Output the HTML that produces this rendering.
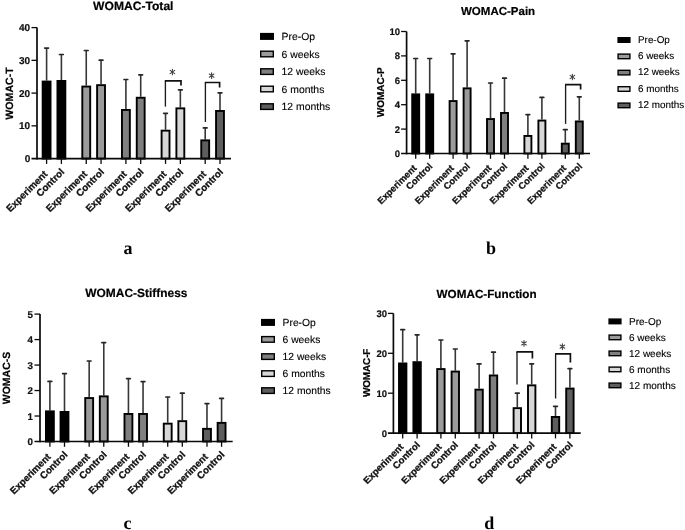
<!DOCTYPE html>
<html><head><meta charset="utf-8"><style>
html,body{margin:0;padding:0;background:#fff;width:685px;height:530px;overflow:hidden}
svg{display:block;will-change:transform}
text{font-family:"Liberation Sans",sans-serif;text-rendering:geometricPrecision}
.xl{font-weight:bold;fill:#111;stroke:#111;stroke-width:0.3px}
.tl{font-weight:bold;fill:#111;stroke:#111;stroke-width:0.2px}
.lg{fill:#000;stroke:#000;stroke-width:0.12px}
.ti{font-weight:bold;fill:#000;stroke:#000;stroke-width:0.2px}
.yl{font-weight:bold;fill:#000;stroke:#000;stroke-width:0.2px}
.st{font-size:13px;fill:#333}
.le{font-family:"Liberation Serif",serif;font-weight:bold;font-size:18px;fill:#000}
</style></head><body>
<svg width="685" height="530" viewBox="0 0 685 530">
<rect width="685" height="530" fill="#fff"/>
<line x1="46.6" y1="48.1" x2="46.6" y2="80.6" stroke="#363636" stroke-width="1.6"/>
<line x1="44.75" y1="48.1" x2="48.45" y2="48.1" stroke="#262626" stroke-width="1.7" stroke-linecap="round"/>
<rect x="42.65" y="81.55" width="7.9" height="77.05" fill="#000000" stroke="#000" stroke-width="1.9"/>
<line x1="46.6" y1="158.6" x2="46.6" y2="163.9" stroke="#0a0a0a" stroke-width="1.3"/>
<text x="48.1" y="174.8" transform="rotate(-45 48.1 174.8)" text-anchor="end" class="xl" style="font-size:9.8px">Experiment</text>
<line x1="61.4" y1="54.5" x2="61.4" y2="80" stroke="#363636" stroke-width="1.6"/>
<line x1="59.55" y1="54.5" x2="63.25" y2="54.5" stroke="#262626" stroke-width="1.7" stroke-linecap="round"/>
<rect x="57.45" y="80.95" width="7.9" height="77.65" fill="#000000" stroke="#000" stroke-width="1.9"/>
<line x1="61.4" y1="158.6" x2="61.4" y2="163.9" stroke="#0a0a0a" stroke-width="1.3"/>
<text x="65" y="172.7" transform="rotate(-45 65 172.7)" text-anchor="end" class="xl" style="font-size:9.8px">Control</text>
<line x1="86.25" y1="50.5" x2="86.25" y2="85.6" stroke="#363636" stroke-width="1.6"/>
<line x1="84.4" y1="50.5" x2="88.1" y2="50.5" stroke="#262626" stroke-width="1.7" stroke-linecap="round"/>
<rect x="82.3" y="86.55" width="7.9" height="72.05" fill="#9b9b9b" stroke="#000" stroke-width="1.9"/>
<line x1="86.25" y1="158.6" x2="86.25" y2="163.9" stroke="#0a0a0a" stroke-width="1.3"/>
<text x="87.75" y="174.8" transform="rotate(-45 87.75 174.8)" text-anchor="end" class="xl" style="font-size:9.8px">Experiment</text>
<line x1="101.05" y1="60.2" x2="101.05" y2="84.2" stroke="#363636" stroke-width="1.6"/>
<line x1="99.2" y1="60.2" x2="102.9" y2="60.2" stroke="#262626" stroke-width="1.7" stroke-linecap="round"/>
<rect x="97.1" y="85.15" width="7.9" height="73.45" fill="#9b9b9b" stroke="#000" stroke-width="1.9"/>
<line x1="101.05" y1="158.6" x2="101.05" y2="163.9" stroke="#0a0a0a" stroke-width="1.3"/>
<text x="104.65" y="172.7" transform="rotate(-45 104.65 172.7)" text-anchor="end" class="xl" style="font-size:9.8px">Control</text>
<line x1="125.9" y1="79.5" x2="125.9" y2="109" stroke="#363636" stroke-width="1.6"/>
<line x1="124.05" y1="79.5" x2="127.75" y2="79.5" stroke="#262626" stroke-width="1.7" stroke-linecap="round"/>
<rect x="121.95" y="109.95" width="7.9" height="48.65" fill="#7f7f7f" stroke="#000" stroke-width="1.9"/>
<line x1="125.9" y1="158.6" x2="125.9" y2="163.9" stroke="#0a0a0a" stroke-width="1.3"/>
<text x="127.4" y="174.8" transform="rotate(-45 127.4 174.8)" text-anchor="end" class="xl" style="font-size:9.8px">Experiment</text>
<line x1="140.7" y1="74.8" x2="140.7" y2="96.8" stroke="#363636" stroke-width="1.6"/>
<line x1="138.85" y1="74.8" x2="142.55" y2="74.8" stroke="#262626" stroke-width="1.7" stroke-linecap="round"/>
<rect x="136.75" y="97.75" width="7.9" height="60.85" fill="#7f7f7f" stroke="#000" stroke-width="1.9"/>
<line x1="140.7" y1="158.6" x2="140.7" y2="163.9" stroke="#0a0a0a" stroke-width="1.3"/>
<text x="144.3" y="172.7" transform="rotate(-45 144.3 172.7)" text-anchor="end" class="xl" style="font-size:9.8px">Control</text>
<line x1="165.55" y1="113.3" x2="165.55" y2="129.7" stroke="#363636" stroke-width="1.6"/>
<line x1="163.7" y1="113.3" x2="167.4" y2="113.3" stroke="#262626" stroke-width="1.7" stroke-linecap="round"/>
<rect x="161.6" y="130.65" width="7.9" height="27.95" fill="#d7d7d7" stroke="#000" stroke-width="1.9"/>
<line x1="165.55" y1="158.6" x2="165.55" y2="163.9" stroke="#0a0a0a" stroke-width="1.3"/>
<text x="167.05" y="174.8" transform="rotate(-45 167.05 174.8)" text-anchor="end" class="xl" style="font-size:9.8px">Experiment</text>
<line x1="180.35" y1="89.8" x2="180.35" y2="107.4" stroke="#363636" stroke-width="1.6"/>
<line x1="178.5" y1="89.8" x2="182.2" y2="89.8" stroke="#262626" stroke-width="1.7" stroke-linecap="round"/>
<rect x="176.4" y="108.35" width="7.9" height="50.25" fill="#d7d7d7" stroke="#000" stroke-width="1.9"/>
<line x1="180.35" y1="158.6" x2="180.35" y2="163.9" stroke="#0a0a0a" stroke-width="1.3"/>
<text x="183.95" y="172.7" transform="rotate(-45 183.95 172.7)" text-anchor="end" class="xl" style="font-size:9.8px">Control</text>
<line x1="205.2" y1="127.9" x2="205.2" y2="139.4" stroke="#363636" stroke-width="1.6"/>
<line x1="203.35" y1="127.9" x2="207.05" y2="127.9" stroke="#262626" stroke-width="1.7" stroke-linecap="round"/>
<rect x="201.25" y="140.35" width="7.9" height="18.25" fill="#5e5e5e" stroke="#000" stroke-width="1.9"/>
<line x1="205.2" y1="158.6" x2="205.2" y2="163.9" stroke="#0a0a0a" stroke-width="1.3"/>
<text x="206.7" y="174.8" transform="rotate(-45 206.7 174.8)" text-anchor="end" class="xl" style="font-size:9.8px">Experiment</text>
<line x1="220" y1="92.8" x2="220" y2="110" stroke="#363636" stroke-width="1.6"/>
<line x1="218.15" y1="92.8" x2="221.85" y2="92.8" stroke="#262626" stroke-width="1.7" stroke-linecap="round"/>
<rect x="216.05" y="110.95" width="7.9" height="47.65" fill="#5e5e5e" stroke="#000" stroke-width="1.9"/>
<line x1="220" y1="158.6" x2="220" y2="163.9" stroke="#0a0a0a" stroke-width="1.3"/>
<text x="223.6" y="172.7" transform="rotate(-45 223.6 172.7)" text-anchor="end" class="xl" style="font-size:9.8px">Control</text>
<line x1="37" y1="27.6" x2="37" y2="159.4" stroke="#0a0a0a" stroke-width="1.7"/>
<line x1="31.5" y1="158.6" x2="231" y2="158.6" stroke="#0a0a0a" stroke-width="1.7"/>
<text x="30.2" y="162.2" text-anchor="end" class="tl" style="font-size:10px">0</text>
<line x1="31.5" y1="125.85" x2="37" y2="125.85" stroke="#0a0a0a" stroke-width="1.3"/>
<text x="30.2" y="129.45" text-anchor="end" class="tl" style="font-size:10px">10</text>
<line x1="31.5" y1="93.1" x2="37" y2="93.1" stroke="#0a0a0a" stroke-width="1.3"/>
<text x="30.2" y="96.7" text-anchor="end" class="tl" style="font-size:10px">20</text>
<line x1="31.5" y1="60.35" x2="37" y2="60.35" stroke="#0a0a0a" stroke-width="1.3"/>
<text x="30.2" y="63.95" text-anchor="end" class="tl" style="font-size:10px">30</text>
<line x1="31.5" y1="27.6" x2="37" y2="27.6" stroke="#0a0a0a" stroke-width="1.3"/>
<text x="30.2" y="31.2" text-anchor="end" class="tl" style="font-size:10px">40</text>
<line x1="165.4" y1="106.6" x2="165.4" y2="80.9" stroke="#1c1c1c" stroke-width="1.35"/>
<polyline points="164.8,80.9 181,80.9 181,85.6" fill="none" stroke="#111" stroke-width="1.7"/>
<path d="M172.4 69.2V74.8M170.1 70.4L174.7 73.6M174.7 70.4L170.1 73.6" stroke="#444" stroke-width="1.1" stroke-linecap="round" fill="none"/>
<line x1="205.4" y1="122" x2="205.4" y2="82.5" stroke="#1c1c1c" stroke-width="1.35"/>
<polyline points="204.8,82.5 219.6,82.5 219.6,87.6" fill="none" stroke="#111" stroke-width="1.7"/>
<path d="M211.6 72.8V78.4M209.3 74L213.9 77.2M213.9 74L209.3 77.2" stroke="#444" stroke-width="1.1" stroke-linecap="round" fill="none"/>
<rect x="260.7" y="33.6" width="12.6" height="5.6" fill="#000000" stroke="#000" stroke-width="1.4"/>
<text x="281.6" y="40.14" class="lg" style="font-size:10.4px">Pre-Op</text>
<rect x="260.7" y="51.2" width="12.6" height="5.6" fill="#9b9b9b" stroke="#000" stroke-width="1.4"/>
<text x="281.6" y="57.74" class="lg" style="font-size:10.4px">6 weeks</text>
<rect x="260.7" y="68.8" width="12.6" height="5.6" fill="#7f7f7f" stroke="#000" stroke-width="1.4"/>
<text x="281.6" y="75.34" class="lg" style="font-size:10.4px">12 weeks</text>
<rect x="260.7" y="86.2" width="12.6" height="5.6" fill="#d7d7d7" stroke="#000" stroke-width="1.4"/>
<text x="281.6" y="92.74" class="lg" style="font-size:10.4px">6 months</text>
<rect x="260.7" y="103.8" width="12.6" height="5.6" fill="#5e5e5e" stroke="#000" stroke-width="1.4"/>
<text x="281.6" y="110.34" class="lg" style="font-size:10.4px">12 months</text>
<text x="93.1" y="10.4" class="ti" style="font-size:12.1px">WOMAC-Total</text>
<text x="12.5" y="93.5" transform="rotate(-90 12.5 93.5)" text-anchor="middle" class="yl" style="font-size:10.6px;letter-spacing:0px">WOMAC-T</text>
<text x="123.4" y="254.1" class="le">a</text>
<line x1="415.7" y1="58.5" x2="415.7" y2="93.4" stroke="#363636" stroke-width="1.6"/>
<line x1="413.85" y1="58.5" x2="417.55" y2="58.5" stroke="#262626" stroke-width="1.7" stroke-linecap="round"/>
<rect x="412.2" y="94.35" width="7" height="59.15" fill="#000000" stroke="#000" stroke-width="1.9"/>
<line x1="415.7" y1="153.5" x2="415.7" y2="158.8" stroke="#0a0a0a" stroke-width="1.3"/>
<text x="417.12" y="168.89" transform="rotate(-45 417.12 168.89)" text-anchor="end" class="xl" style="font-size:9.3px">Experiment</text>
<line x1="429.7" y1="58.5" x2="429.7" y2="93.4" stroke="#363636" stroke-width="1.6"/>
<line x1="427.85" y1="58.5" x2="431.55" y2="58.5" stroke="#262626" stroke-width="1.7" stroke-linecap="round"/>
<rect x="426.2" y="94.35" width="7" height="59.15" fill="#000000" stroke="#000" stroke-width="1.9"/>
<line x1="429.7" y1="153.5" x2="429.7" y2="158.8" stroke="#0a0a0a" stroke-width="1.3"/>
<text x="433.12" y="166.9" transform="rotate(-45 433.12 166.9)" text-anchor="end" class="xl" style="font-size:9.3px">Control</text>
<line x1="453.1" y1="53.8" x2="453.1" y2="100.1" stroke="#363636" stroke-width="1.6"/>
<line x1="451.25" y1="53.8" x2="454.95" y2="53.8" stroke="#262626" stroke-width="1.7" stroke-linecap="round"/>
<rect x="449.6" y="101.05" width="7" height="52.45" fill="#9b9b9b" stroke="#000" stroke-width="1.9"/>
<line x1="453.1" y1="153.5" x2="453.1" y2="158.8" stroke="#0a0a0a" stroke-width="1.3"/>
<text x="454.52" y="168.89" transform="rotate(-45 454.52 168.89)" text-anchor="end" class="xl" style="font-size:9.3px">Experiment</text>
<line x1="467.1" y1="40.8" x2="467.1" y2="87.4" stroke="#363636" stroke-width="1.6"/>
<line x1="465.25" y1="40.8" x2="468.95" y2="40.8" stroke="#262626" stroke-width="1.7" stroke-linecap="round"/>
<rect x="463.6" y="88.35" width="7" height="65.15" fill="#9b9b9b" stroke="#000" stroke-width="1.9"/>
<line x1="467.1" y1="153.5" x2="467.1" y2="158.8" stroke="#0a0a0a" stroke-width="1.3"/>
<text x="470.52" y="166.9" transform="rotate(-45 470.52 166.9)" text-anchor="end" class="xl" style="font-size:9.3px">Control</text>
<line x1="490.5" y1="83" x2="490.5" y2="118.1" stroke="#363636" stroke-width="1.6"/>
<line x1="488.65" y1="83" x2="492.35" y2="83" stroke="#262626" stroke-width="1.7" stroke-linecap="round"/>
<rect x="487" y="119.05" width="7" height="34.45" fill="#7f7f7f" stroke="#000" stroke-width="1.9"/>
<line x1="490.5" y1="153.5" x2="490.5" y2="158.8" stroke="#0a0a0a" stroke-width="1.3"/>
<text x="491.93" y="168.89" transform="rotate(-45 491.93 168.89)" text-anchor="end" class="xl" style="font-size:9.3px">Experiment</text>
<line x1="504.5" y1="78.2" x2="504.5" y2="112" stroke="#363636" stroke-width="1.6"/>
<line x1="502.65" y1="78.2" x2="506.35" y2="78.2" stroke="#262626" stroke-width="1.7" stroke-linecap="round"/>
<rect x="501" y="112.95" width="7" height="40.55" fill="#7f7f7f" stroke="#000" stroke-width="1.9"/>
<line x1="504.5" y1="153.5" x2="504.5" y2="158.8" stroke="#0a0a0a" stroke-width="1.3"/>
<text x="507.92" y="166.9" transform="rotate(-45 507.92 166.9)" text-anchor="end" class="xl" style="font-size:9.3px">Control</text>
<line x1="527.9" y1="114.6" x2="527.9" y2="135" stroke="#363636" stroke-width="1.6"/>
<line x1="526.05" y1="114.6" x2="529.75" y2="114.6" stroke="#262626" stroke-width="1.7" stroke-linecap="round"/>
<rect x="524.4" y="135.95" width="7" height="17.55" fill="#d7d7d7" stroke="#000" stroke-width="1.9"/>
<line x1="527.9" y1="153.5" x2="527.9" y2="158.8" stroke="#0a0a0a" stroke-width="1.3"/>
<text x="529.32" y="168.89" transform="rotate(-45 529.32 168.89)" text-anchor="end" class="xl" style="font-size:9.3px">Experiment</text>
<line x1="541.9" y1="97.4" x2="541.9" y2="119.6" stroke="#363636" stroke-width="1.6"/>
<line x1="540.05" y1="97.4" x2="543.75" y2="97.4" stroke="#262626" stroke-width="1.7" stroke-linecap="round"/>
<rect x="538.4" y="120.55" width="7" height="32.95" fill="#d7d7d7" stroke="#000" stroke-width="1.9"/>
<line x1="541.9" y1="153.5" x2="541.9" y2="158.8" stroke="#0a0a0a" stroke-width="1.3"/>
<text x="545.32" y="166.9" transform="rotate(-45 545.32 166.9)" text-anchor="end" class="xl" style="font-size:9.3px">Control</text>
<line x1="565.3" y1="129.7" x2="565.3" y2="142.7" stroke="#363636" stroke-width="1.6"/>
<line x1="563.45" y1="129.7" x2="567.15" y2="129.7" stroke="#262626" stroke-width="1.7" stroke-linecap="round"/>
<rect x="561.8" y="143.65" width="7" height="9.85" fill="#5e5e5e" stroke="#000" stroke-width="1.9"/>
<line x1="565.3" y1="153.5" x2="565.3" y2="158.8" stroke="#0a0a0a" stroke-width="1.3"/>
<text x="566.72" y="168.89" transform="rotate(-45 566.72 168.89)" text-anchor="end" class="xl" style="font-size:9.3px">Experiment</text>
<line x1="579.3" y1="96.8" x2="579.3" y2="120.5" stroke="#363636" stroke-width="1.6"/>
<line x1="577.45" y1="96.8" x2="581.15" y2="96.8" stroke="#262626" stroke-width="1.7" stroke-linecap="round"/>
<rect x="575.8" y="121.45" width="7" height="32.05" fill="#5e5e5e" stroke="#000" stroke-width="1.9"/>
<line x1="579.3" y1="153.5" x2="579.3" y2="158.8" stroke="#0a0a0a" stroke-width="1.3"/>
<text x="582.72" y="166.9" transform="rotate(-45 582.72 166.9)" text-anchor="end" class="xl" style="font-size:9.3px">Control</text>
<line x1="406.6" y1="31.5" x2="406.6" y2="154.3" stroke="#0a0a0a" stroke-width="1.7"/>
<line x1="401.1" y1="153.5" x2="590" y2="153.5" stroke="#0a0a0a" stroke-width="1.7"/>
<text x="400.1" y="156.92" text-anchor="end" class="tl" style="font-size:9.5px">0</text>
<line x1="401.1" y1="129.1" x2="406.6" y2="129.1" stroke="#0a0a0a" stroke-width="1.3"/>
<text x="400.1" y="132.52" text-anchor="end" class="tl" style="font-size:9.5px">2</text>
<line x1="401.1" y1="104.7" x2="406.6" y2="104.7" stroke="#0a0a0a" stroke-width="1.3"/>
<text x="400.1" y="108.12" text-anchor="end" class="tl" style="font-size:9.5px">4</text>
<line x1="401.1" y1="80.3" x2="406.6" y2="80.3" stroke="#0a0a0a" stroke-width="1.3"/>
<text x="400.1" y="83.72" text-anchor="end" class="tl" style="font-size:9.5px">6</text>
<line x1="401.1" y1="55.9" x2="406.6" y2="55.9" stroke="#0a0a0a" stroke-width="1.3"/>
<text x="400.1" y="59.32" text-anchor="end" class="tl" style="font-size:9.5px">8</text>
<line x1="401.1" y1="31.5" x2="406.6" y2="31.5" stroke="#0a0a0a" stroke-width="1.3"/>
<text x="400.1" y="34.92" text-anchor="end" class="tl" style="font-size:9.5px">10</text>
<line x1="565.6" y1="123.9" x2="565.6" y2="84.7" stroke="#1c1c1c" stroke-width="1.35"/>
<polyline points="565,84.7 580.6,84.7 580.6,89.6" fill="none" stroke="#111" stroke-width="1.7"/>
<path d="M572.4 74.2V79.8M570.1 75.4L574.7 78.6M574.7 75.4L570.1 78.6" stroke="#444" stroke-width="1.1" stroke-linecap="round" fill="none"/>
<rect x="618.1" y="37.7" width="11.8" height="4.6" fill="#000000" stroke="#000" stroke-width="1.4"/>
<text x="638" y="42.76" class="lg" style="font-size:9.9px">Pre-Op</text>
<rect x="618.1" y="54.1" width="11.8" height="4.6" fill="#9b9b9b" stroke="#000" stroke-width="1.4"/>
<text x="638" y="59.16" class="lg" style="font-size:9.9px">6 weeks</text>
<rect x="618.1" y="70.3" width="11.8" height="4.6" fill="#7f7f7f" stroke="#000" stroke-width="1.4"/>
<text x="638" y="75.36" class="lg" style="font-size:9.9px">12 weeks</text>
<rect x="618.1" y="86.7" width="11.8" height="4.6" fill="#d7d7d7" stroke="#000" stroke-width="1.4"/>
<text x="638" y="91.76" class="lg" style="font-size:9.9px">6 months</text>
<rect x="618.1" y="103.1" width="11.8" height="4.6" fill="#5e5e5e" stroke="#000" stroke-width="1.4"/>
<text x="638" y="108.16" class="lg" style="font-size:9.9px">12 months</text>
<text x="461" y="15.4" class="ti" style="font-size:11.5px">WOMAC-Pain</text>
<text x="384.3" y="92.3" transform="rotate(-90 384.3 92.3)" text-anchor="middle" class="yl" style="font-size:10px;letter-spacing:0px">WOMAC-P</text>
<text x="486.1" y="253.9" class="le">b</text>
<line x1="49.9" y1="381.4" x2="49.9" y2="410.4" stroke="#363636" stroke-width="1.6"/>
<line x1="48.05" y1="381.4" x2="51.75" y2="381.4" stroke="#262626" stroke-width="1.7" stroke-linecap="round"/>
<rect x="45.95" y="411.35" width="7.9" height="30.15" fill="#000000" stroke="#000" stroke-width="1.9"/>
<line x1="49.9" y1="441.5" x2="49.9" y2="446.8" stroke="#0a0a0a" stroke-width="1.3"/>
<text x="51.39" y="457.54" transform="rotate(-45 51.39 457.54)" text-anchor="end" class="xl" style="font-size:9.7px">Experiment</text>
<line x1="64.5" y1="373.6" x2="64.5" y2="411" stroke="#363636" stroke-width="1.6"/>
<line x1="62.65" y1="373.6" x2="66.35" y2="373.6" stroke="#262626" stroke-width="1.7" stroke-linecap="round"/>
<rect x="60.55" y="411.95" width="7.9" height="29.55" fill="#000000" stroke="#000" stroke-width="1.9"/>
<line x1="64.5" y1="441.5" x2="64.5" y2="446.8" stroke="#0a0a0a" stroke-width="1.3"/>
<text x="68.06" y="455.46" transform="rotate(-45 68.06 455.46)" text-anchor="end" class="xl" style="font-size:9.7px">Control</text>
<line x1="89.17" y1="361" x2="89.17" y2="397.1" stroke="#363636" stroke-width="1.6"/>
<line x1="87.32" y1="361" x2="91.02" y2="361" stroke="#262626" stroke-width="1.7" stroke-linecap="round"/>
<rect x="85.22" y="398.05" width="7.9" height="43.45" fill="#9b9b9b" stroke="#000" stroke-width="1.9"/>
<line x1="89.17" y1="441.5" x2="89.17" y2="446.8" stroke="#0a0a0a" stroke-width="1.3"/>
<text x="90.66" y="457.54" transform="rotate(-45 90.66 457.54)" text-anchor="end" class="xl" style="font-size:9.7px">Experiment</text>
<line x1="103.77" y1="342.6" x2="103.77" y2="395.4" stroke="#363636" stroke-width="1.6"/>
<line x1="101.92" y1="342.6" x2="105.62" y2="342.6" stroke="#262626" stroke-width="1.7" stroke-linecap="round"/>
<rect x="99.82" y="396.35" width="7.9" height="45.15" fill="#9b9b9b" stroke="#000" stroke-width="1.9"/>
<line x1="103.77" y1="441.5" x2="103.77" y2="446.8" stroke="#0a0a0a" stroke-width="1.3"/>
<text x="107.33" y="455.46" transform="rotate(-45 107.33 455.46)" text-anchor="end" class="xl" style="font-size:9.7px">Control</text>
<line x1="128.44" y1="378.6" x2="128.44" y2="413" stroke="#363636" stroke-width="1.6"/>
<line x1="126.59" y1="378.6" x2="130.29" y2="378.6" stroke="#262626" stroke-width="1.7" stroke-linecap="round"/>
<rect x="124.49" y="413.95" width="7.9" height="27.55" fill="#7f7f7f" stroke="#000" stroke-width="1.9"/>
<line x1="128.44" y1="441.5" x2="128.44" y2="446.8" stroke="#0a0a0a" stroke-width="1.3"/>
<text x="129.93" y="457.54" transform="rotate(-45 129.93 457.54)" text-anchor="end" class="xl" style="font-size:9.7px">Experiment</text>
<line x1="143.04" y1="381.6" x2="143.04" y2="413" stroke="#363636" stroke-width="1.6"/>
<line x1="141.19" y1="381.6" x2="144.89" y2="381.6" stroke="#262626" stroke-width="1.7" stroke-linecap="round"/>
<rect x="139.09" y="413.95" width="7.9" height="27.55" fill="#7f7f7f" stroke="#000" stroke-width="1.9"/>
<line x1="143.04" y1="441.5" x2="143.04" y2="446.8" stroke="#0a0a0a" stroke-width="1.3"/>
<text x="146.6" y="455.46" transform="rotate(-45 146.6 455.46)" text-anchor="end" class="xl" style="font-size:9.7px">Control</text>
<line x1="167.71" y1="397" x2="167.71" y2="422.7" stroke="#363636" stroke-width="1.6"/>
<line x1="165.86" y1="397" x2="169.56" y2="397" stroke="#262626" stroke-width="1.7" stroke-linecap="round"/>
<rect x="163.76" y="423.65" width="7.9" height="17.85" fill="#d7d7d7" stroke="#000" stroke-width="1.9"/>
<line x1="167.71" y1="441.5" x2="167.71" y2="446.8" stroke="#0a0a0a" stroke-width="1.3"/>
<text x="169.19" y="457.54" transform="rotate(-45 169.19 457.54)" text-anchor="end" class="xl" style="font-size:9.7px">Experiment</text>
<line x1="182.31" y1="393.2" x2="182.31" y2="420.2" stroke="#363636" stroke-width="1.6"/>
<line x1="180.46" y1="393.2" x2="184.16" y2="393.2" stroke="#262626" stroke-width="1.7" stroke-linecap="round"/>
<rect x="178.36" y="421.15" width="7.9" height="20.35" fill="#d7d7d7" stroke="#000" stroke-width="1.9"/>
<line x1="182.31" y1="441.5" x2="182.31" y2="446.8" stroke="#0a0a0a" stroke-width="1.3"/>
<text x="185.87" y="455.46" transform="rotate(-45 185.87 455.46)" text-anchor="end" class="xl" style="font-size:9.7px">Control</text>
<line x1="206.98" y1="403.6" x2="206.98" y2="427.9" stroke="#363636" stroke-width="1.6"/>
<line x1="205.13" y1="403.6" x2="208.83" y2="403.6" stroke="#262626" stroke-width="1.7" stroke-linecap="round"/>
<rect x="203.03" y="428.85" width="7.9" height="12.65" fill="#5e5e5e" stroke="#000" stroke-width="1.9"/>
<line x1="206.98" y1="441.5" x2="206.98" y2="446.8" stroke="#0a0a0a" stroke-width="1.3"/>
<text x="208.47" y="457.54" transform="rotate(-45 208.47 457.54)" text-anchor="end" class="xl" style="font-size:9.7px">Experiment</text>
<line x1="221.58" y1="398.4" x2="221.58" y2="421.9" stroke="#363636" stroke-width="1.6"/>
<line x1="219.73" y1="398.4" x2="223.43" y2="398.4" stroke="#262626" stroke-width="1.7" stroke-linecap="round"/>
<rect x="217.63" y="422.85" width="7.9" height="18.65" fill="#5e5e5e" stroke="#000" stroke-width="1.9"/>
<line x1="221.58" y1="441.5" x2="221.58" y2="446.8" stroke="#0a0a0a" stroke-width="1.3"/>
<text x="225.14" y="455.46" transform="rotate(-45 225.14 455.46)" text-anchor="end" class="xl" style="font-size:9.7px">Control</text>
<line x1="40" y1="314.1" x2="40" y2="442.3" stroke="#0a0a0a" stroke-width="1.7"/>
<line x1="34.5" y1="441.5" x2="232.7" y2="441.5" stroke="#0a0a0a" stroke-width="1.7"/>
<text x="33" y="445.03" text-anchor="end" class="tl" style="font-size:9.8px">0</text>
<line x1="34.5" y1="416.02" x2="40" y2="416.02" stroke="#0a0a0a" stroke-width="1.3"/>
<text x="33" y="419.55" text-anchor="end" class="tl" style="font-size:9.8px">1</text>
<line x1="34.5" y1="390.54" x2="40" y2="390.54" stroke="#0a0a0a" stroke-width="1.3"/>
<text x="33" y="394.07" text-anchor="end" class="tl" style="font-size:9.8px">2</text>
<line x1="34.5" y1="365.06" x2="40" y2="365.06" stroke="#0a0a0a" stroke-width="1.3"/>
<text x="33" y="368.59" text-anchor="end" class="tl" style="font-size:9.8px">3</text>
<line x1="34.5" y1="339.58" x2="40" y2="339.58" stroke="#0a0a0a" stroke-width="1.3"/>
<text x="33" y="343.11" text-anchor="end" class="tl" style="font-size:9.8px">4</text>
<line x1="34.5" y1="314.1" x2="40" y2="314.1" stroke="#0a0a0a" stroke-width="1.3"/>
<text x="33" y="317.63" text-anchor="end" class="tl" style="font-size:9.8px">5</text>
<rect x="261.7" y="319.6" width="12.6" height="5.6" fill="#000000" stroke="#000" stroke-width="1.4"/>
<text x="282.6" y="326.11" class="lg" style="font-size:10.3px">Pre-Op</text>
<rect x="261.7" y="336.6" width="12.6" height="5.6" fill="#9b9b9b" stroke="#000" stroke-width="1.4"/>
<text x="282.6" y="343.11" class="lg" style="font-size:10.3px">6 weeks</text>
<rect x="261.7" y="353.8" width="12.6" height="5.6" fill="#7f7f7f" stroke="#000" stroke-width="1.4"/>
<text x="282.6" y="360.31" class="lg" style="font-size:10.3px">12 weeks</text>
<rect x="261.7" y="370.8" width="12.6" height="5.6" fill="#d7d7d7" stroke="#000" stroke-width="1.4"/>
<text x="282.6" y="377.31" class="lg" style="font-size:10.3px">6 months</text>
<rect x="261.7" y="387.8" width="12.6" height="5.6" fill="#5e5e5e" stroke="#000" stroke-width="1.4"/>
<text x="282.6" y="394.31" class="lg" style="font-size:10.3px">12 months</text>
<text x="85.3" y="297.4" class="ti" style="font-size:11.95px">WOMAC-Stiffness</text>
<text x="10.3" y="378" transform="rotate(-90 10.3 378)" text-anchor="middle" class="yl" style="font-size:10.5px;letter-spacing:0px">WOMAC-S</text>
<text x="123.5" y="529.2" class="le">c</text>
<line x1="402.7" y1="329.7" x2="402.7" y2="362.5" stroke="#363636" stroke-width="1.6"/>
<line x1="400.85" y1="329.7" x2="404.55" y2="329.7" stroke="#262626" stroke-width="1.7" stroke-linecap="round"/>
<rect x="399" y="363.45" width="7.4" height="69.65" fill="#000000" stroke="#000" stroke-width="1.9"/>
<line x1="402.7" y1="433.1" x2="402.7" y2="438.4" stroke="#0a0a0a" stroke-width="1.3"/>
<text x="404.14" y="447.55" transform="rotate(-45 404.14 447.55)" text-anchor="end" class="xl" style="font-size:9.6px">Experiment</text>
<line x1="417.1" y1="334.8" x2="417.1" y2="361.2" stroke="#363636" stroke-width="1.6"/>
<line x1="415.25" y1="334.8" x2="418.95" y2="334.8" stroke="#262626" stroke-width="1.7" stroke-linecap="round"/>
<rect x="413.4" y="362.15" width="7.4" height="70.95" fill="#000000" stroke="#000" stroke-width="1.9"/>
<line x1="417.1" y1="433.1" x2="417.1" y2="438.4" stroke="#0a0a0a" stroke-width="1.3"/>
<text x="420.56" y="445.54" transform="rotate(-45 420.56 445.54)" text-anchor="end" class="xl" style="font-size:9.6px">Control</text>
<line x1="440.9" y1="340" x2="440.9" y2="368.1" stroke="#363636" stroke-width="1.6"/>
<line x1="439.05" y1="340" x2="442.75" y2="340" stroke="#262626" stroke-width="1.7" stroke-linecap="round"/>
<rect x="437.2" y="369.05" width="7.4" height="64.05" fill="#9b9b9b" stroke="#000" stroke-width="1.9"/>
<line x1="440.9" y1="433.1" x2="440.9" y2="438.4" stroke="#0a0a0a" stroke-width="1.3"/>
<text x="442.34" y="447.55" transform="rotate(-45 442.34 447.55)" text-anchor="end" class="xl" style="font-size:9.6px">Experiment</text>
<line x1="455.3" y1="349" x2="455.3" y2="370.6" stroke="#363636" stroke-width="1.6"/>
<line x1="453.45" y1="349" x2="457.15" y2="349" stroke="#262626" stroke-width="1.7" stroke-linecap="round"/>
<rect x="451.6" y="371.55" width="7.4" height="61.55" fill="#9b9b9b" stroke="#000" stroke-width="1.9"/>
<line x1="455.3" y1="433.1" x2="455.3" y2="438.4" stroke="#0a0a0a" stroke-width="1.3"/>
<text x="458.76" y="445.54" transform="rotate(-45 458.76 445.54)" text-anchor="end" class="xl" style="font-size:9.6px">Control</text>
<line x1="479.1" y1="363.9" x2="479.1" y2="388.7" stroke="#363636" stroke-width="1.6"/>
<line x1="477.25" y1="363.9" x2="480.95" y2="363.9" stroke="#262626" stroke-width="1.7" stroke-linecap="round"/>
<rect x="475.4" y="389.65" width="7.4" height="43.45" fill="#7f7f7f" stroke="#000" stroke-width="1.9"/>
<line x1="479.1" y1="433.1" x2="479.1" y2="438.4" stroke="#0a0a0a" stroke-width="1.3"/>
<text x="480.54" y="447.55" transform="rotate(-45 480.54 447.55)" text-anchor="end" class="xl" style="font-size:9.6px">Experiment</text>
<line x1="493.5" y1="352.2" x2="493.5" y2="374.5" stroke="#363636" stroke-width="1.6"/>
<line x1="491.65" y1="352.2" x2="495.35" y2="352.2" stroke="#262626" stroke-width="1.7" stroke-linecap="round"/>
<rect x="489.8" y="375.45" width="7.4" height="57.65" fill="#7f7f7f" stroke="#000" stroke-width="1.9"/>
<line x1="493.5" y1="433.1" x2="493.5" y2="438.4" stroke="#0a0a0a" stroke-width="1.3"/>
<text x="496.96" y="445.54" transform="rotate(-45 496.96 445.54)" text-anchor="end" class="xl" style="font-size:9.6px">Control</text>
<line x1="517.3" y1="393.2" x2="517.3" y2="407.2" stroke="#363636" stroke-width="1.6"/>
<line x1="515.45" y1="393.2" x2="519.15" y2="393.2" stroke="#262626" stroke-width="1.7" stroke-linecap="round"/>
<rect x="513.6" y="408.15" width="7.4" height="24.95" fill="#d7d7d7" stroke="#000" stroke-width="1.9"/>
<line x1="517.3" y1="433.1" x2="517.3" y2="438.4" stroke="#0a0a0a" stroke-width="1.3"/>
<text x="518.74" y="447.55" transform="rotate(-45 518.74 447.55)" text-anchor="end" class="xl" style="font-size:9.6px">Experiment</text>
<line x1="531.7" y1="363.8" x2="531.7" y2="384.4" stroke="#363636" stroke-width="1.6"/>
<line x1="529.85" y1="363.8" x2="533.55" y2="363.8" stroke="#262626" stroke-width="1.7" stroke-linecap="round"/>
<rect x="528" y="385.35" width="7.4" height="47.75" fill="#d7d7d7" stroke="#000" stroke-width="1.9"/>
<line x1="531.7" y1="433.1" x2="531.7" y2="438.4" stroke="#0a0a0a" stroke-width="1.3"/>
<text x="535.16" y="445.54" transform="rotate(-45 535.16 445.54)" text-anchor="end" class="xl" style="font-size:9.6px">Control</text>
<line x1="555.5" y1="406.3" x2="555.5" y2="416" stroke="#363636" stroke-width="1.6"/>
<line x1="553.65" y1="406.3" x2="557.35" y2="406.3" stroke="#262626" stroke-width="1.7" stroke-linecap="round"/>
<rect x="551.8" y="416.95" width="7.4" height="16.15" fill="#5e5e5e" stroke="#000" stroke-width="1.9"/>
<line x1="555.5" y1="433.1" x2="555.5" y2="438.4" stroke="#0a0a0a" stroke-width="1.3"/>
<text x="556.94" y="447.55" transform="rotate(-45 556.94 447.55)" text-anchor="end" class="xl" style="font-size:9.6px">Experiment</text>
<line x1="569.9" y1="368.6" x2="569.9" y2="387.6" stroke="#363636" stroke-width="1.6"/>
<line x1="568.05" y1="368.6" x2="571.75" y2="368.6" stroke="#262626" stroke-width="1.7" stroke-linecap="round"/>
<rect x="566.2" y="388.55" width="7.4" height="44.55" fill="#5e5e5e" stroke="#000" stroke-width="1.9"/>
<line x1="569.9" y1="433.1" x2="569.9" y2="438.4" stroke="#0a0a0a" stroke-width="1.3"/>
<text x="573.36" y="445.54" transform="rotate(-45 573.36 445.54)" text-anchor="end" class="xl" style="font-size:9.6px">Control</text>
<line x1="393.4" y1="313.4" x2="393.4" y2="433.9" stroke="#0a0a0a" stroke-width="1.7"/>
<line x1="387.9" y1="433.1" x2="580.7" y2="433.1" stroke="#0a0a0a" stroke-width="1.7"/>
<text x="387" y="436.52" text-anchor="end" class="tl" style="font-size:9.5px">0</text>
<line x1="387.9" y1="393.2" x2="393.4" y2="393.2" stroke="#0a0a0a" stroke-width="1.3"/>
<text x="387" y="396.62" text-anchor="end" class="tl" style="font-size:9.5px">10</text>
<line x1="387.9" y1="353.3" x2="393.4" y2="353.3" stroke="#0a0a0a" stroke-width="1.3"/>
<text x="387" y="356.72" text-anchor="end" class="tl" style="font-size:9.5px">20</text>
<line x1="387.9" y1="313.4" x2="393.4" y2="313.4" stroke="#0a0a0a" stroke-width="1.3"/>
<text x="387" y="316.82" text-anchor="end" class="tl" style="font-size:9.5px">30</text>
<line x1="517" y1="384.4" x2="517" y2="351.9" stroke="#1c1c1c" stroke-width="1.35"/>
<polyline points="516.4,351.9 532.4,351.9 532.4,358.6" fill="none" stroke="#111" stroke-width="1.7"/>
<path d="M524 340.6V346.2M521.7 341.8L526.3 345M526.3 341.8L521.7 345" stroke="#444" stroke-width="1.1" stroke-linecap="round" fill="none"/>
<line x1="555.6" y1="398.5" x2="555.6" y2="353.9" stroke="#1c1c1c" stroke-width="1.35"/>
<polyline points="555,353.9 570.4,353.9 570.4,362.4" fill="none" stroke="#111" stroke-width="1.7"/>
<path d="M562.4 343.8V349.4M560.1 345L564.7 348.2M564.7 345L560.1 348.2" stroke="#444" stroke-width="1.1" stroke-linecap="round" fill="none"/>
<rect x="609.1" y="319.1" width="11.8" height="4.6" fill="#000000" stroke="#000" stroke-width="1.4"/>
<text x="629" y="325" class="lg" style="font-size:10px">Pre-Op</text>
<rect x="609.1" y="335.1" width="11.8" height="4.6" fill="#9b9b9b" stroke="#000" stroke-width="1.4"/>
<text x="629" y="341" class="lg" style="font-size:10px">6 weeks</text>
<rect x="609.1" y="351.1" width="11.8" height="4.6" fill="#7f7f7f" stroke="#000" stroke-width="1.4"/>
<text x="629" y="357" class="lg" style="font-size:10px">12 weeks</text>
<rect x="609.1" y="367.1" width="11.8" height="4.6" fill="#d7d7d7" stroke="#000" stroke-width="1.4"/>
<text x="629" y="373" class="lg" style="font-size:10px">6 months</text>
<rect x="609.1" y="383.1" width="11.8" height="4.6" fill="#5e5e5e" stroke="#000" stroke-width="1.4"/>
<text x="629" y="389" class="lg" style="font-size:10px">12 months</text>
<text x="436.6" y="297.6" class="ti" style="font-size:11.7px">WOMAC-Function</text>
<text x="370.1" y="372.9" transform="rotate(-90 370.1 372.9)" text-anchor="middle" class="yl" style="font-size:10px;letter-spacing:-0.15px">WOMAC-F</text>
<text x="484.2" y="529" class="le">d</text>
</svg>
</body></html>
